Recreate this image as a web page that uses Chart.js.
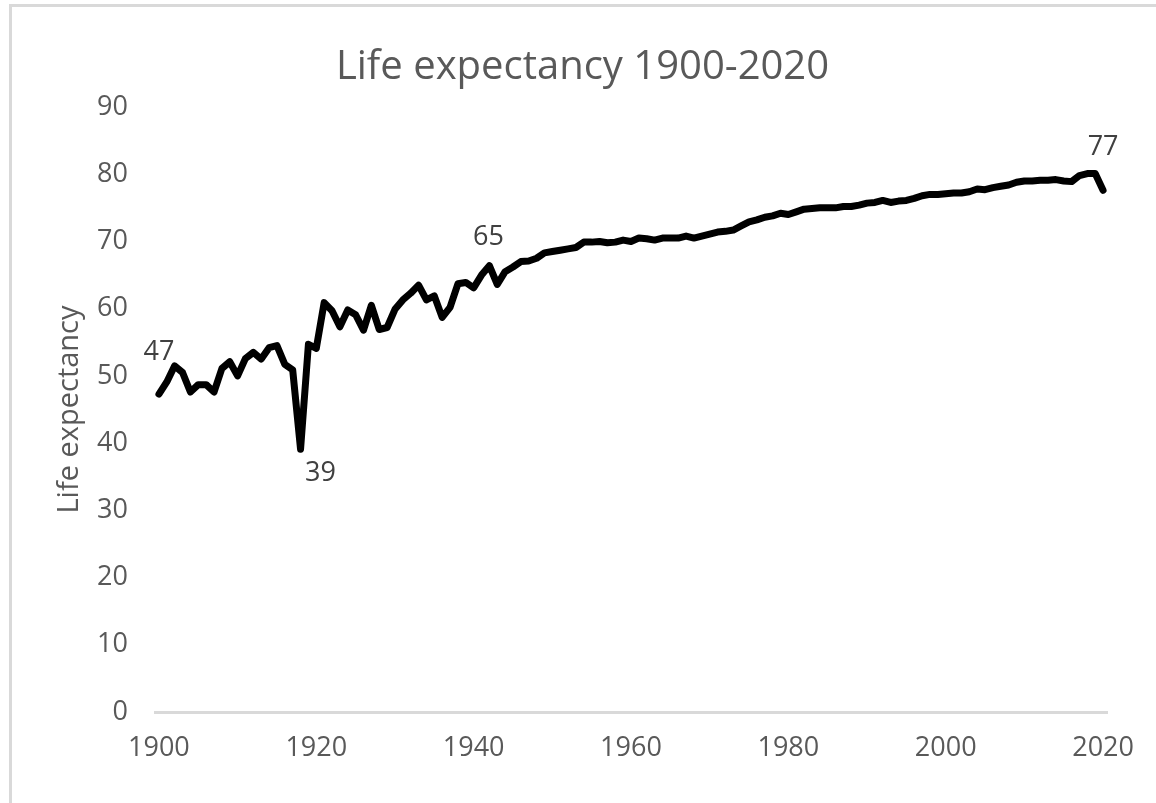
<!DOCTYPE html>
<html>
<head>
<meta charset="utf-8">
<title>Life expectancy 1900-2020</title>
<script src="https://cdn.jsdelivr.net/npm/chart.js@4.4.1/dist/chart.umd.min.js"></script>
<style>
  html, body { margin: 0; padding: 0; background: #fff; }
  #frame {
    position: absolute; left: 9px; top: 4px; width: 1200px; height: 900px;
    border-left: 3px solid #d9d9d9; border-top: 3px solid #d9d9d9;
  }
  #wrap { position: absolute; left: 0; top: 0; width: 1156px; height: 803px; }
</style>
</head>
<body>
<div id="frame"></div>
<div id="wrap"><canvas id="lifeChart" width="1156" height="803"></canvas></div>
<script>
// categories: one per year
const years = [];
for (let y = 1900; y <= 2020; y++) years.push(y);

// life expectancy
const lifeExpectancy = [
  47.3, 49.1, 51.5, 50.5, 47.6, 48.7, 48.7, 47.6, 51.1, 52.1,   // 1900s
  50.0, 52.6, 53.5, 52.5, 54.2, 54.5, 51.7, 50.9, 39.1, 54.7,   // 1910s
  54.1, 60.9, 59.7, 57.3, 59.8, 59.1, 56.8, 60.5, 56.9, 57.2,   // 1920s
  59.9, 61.3, 62.3, 63.5, 61.3, 61.9, 58.7, 60.2, 63.7, 63.9,   // 1930s
  63.1, 65.0, 66.4, 63.6, 65.5, 66.2, 67.0, 67.1, 67.5, 68.3,   // 1940s
  68.5, 68.7, 68.9, 69.1, 69.9, 69.9, 70.0, 69.8, 69.9, 70.2,   // 1950s
  70.0, 70.5, 70.4, 70.2, 70.5, 70.5, 70.5, 70.8, 70.5, 70.8,   // 1960s
  71.1, 71.4, 71.5, 71.7, 72.3, 72.9, 73.2, 73.6, 73.8, 74.2,   // 1970s
  74.0, 74.4, 74.8, 74.9, 75.0, 75.0, 75.0, 75.2, 75.2, 75.4,   // 1980s
  75.7, 75.8, 76.1, 75.8, 76.0, 76.1, 76.4, 76.8, 77.0, 77.0,   // 1990s
  77.1, 77.2, 77.2, 77.4, 77.8, 77.7, 78.0, 78.2, 78.4, 78.8,   // 2000s
  79.0, 79.0, 79.1, 79.1, 79.2, 79.0, 78.9, 79.8, 80.1, 80.1,   // 2010s
  77.6                                                           // 2020
];

const xTickYears = [1900, 1920, 1940, 1960, 1980, 2000, 2020];
const yTicks = [0, 10, 20, 30, 40, 50, 60, 70, 80, 90];

// data labels on a few points
const labelYears = [1900, 1918, 1942, 2020];
const labelTexts = ['47', '39', '65', '77'];

Chart.defaults.font.family = "'Open Sans', sans-serif";

// where each data label sits relative to its point
const labelShift = [[0, -42], [20, 24], [-1, -28], [0, -43]];

const pointLabelsPlugin = {
  id: 'pointLabels',
  afterDatasetsDraw(chart) {
    const meta = chart.getDatasetMeta(0);
    const ctx = chart.ctx;
    ctx.save();
    ctx.font = "27px 'Open Sans', sans-serif";
    ctx.fillStyle = '#404040';
    ctx.textAlign = 'center';
    ctx.textBaseline = 'middle';
    labelYears.forEach((yr, i) => {
      const pt = meta.data[years.indexOf(yr)];
      if (!pt) return;
      ctx.fillText(labelTexts[i], pt.x + labelShift[i][0], pt.y + labelShift[i][1]);
    });
    ctx.restore();
  }
};

new Chart(document.getElementById('lifeChart').getContext('2d'), {
  type: 'line',
  data: {
    labels: years,
    datasets: [{
      label: 'Life expectancy',
      data: lifeExpectancy,
      borderColor: '#000000',
      backgroundColor: '#000000',
      borderWidth: 7,
      pointRadius: 0,
      tension: 0,
      borderJoinStyle: 'round',
      borderCapStyle: 'round'
    }]
  },
  options: {
    responsive: false,
    animation: false,
    layout: { padding: { left: 58, top: 10, right: 49, bottom: 0 } },
    plugins: {
      legend: { display: false },
      tooltip: { enabled: false },
      title: {
        display: true,
        text: 'Life expectancy 1900-2020',
        color: '#595959',
        font: { size: 40, weight: 'normal' },
        padding: { top: 34, bottom: 15 }
      }
    },
    scales: {
      x: {
        type: 'category',
        offset: true,
        grid: { display: false, drawTicks: false },
        border: { display: true, color: '#d9d9d9', width: 3 },
        ticks: {
          autoSkip: false,
          maxRotation: 0,
          padding: 20,
          color: '#595959',
          font: { size: 27 },
          callback: function(value, index) {
            const yr = years[index];
            return xTickYears.includes(yr) ? String(yr) : '';
          }
        },
        afterFit: scale => { scale.height = 91; }
      },
      y: {
        min: 0,
        max: 90,
        grid: { display: false, drawTicks: false },
        border: { display: false },
        afterBuildTicks: scale => { scale.ticks = yTicks.map(v => ({ value: v })); },
        ticks: {
          padding: 27,
          color: '#595959',
          font: { size: 27 }
        },
        title: {
          display: true,
          text: 'Life expectancy',
          color: '#595959',
          font: { size: 29, lineHeight: 0.8 },
          padding: { top: 0, bottom: 0 }
        },
        afterFit: scale => { scale.width = 97; }
      }
    }
  },
  plugins: [pointLabelsPlugin]
});
</script>
</body>
</html>
